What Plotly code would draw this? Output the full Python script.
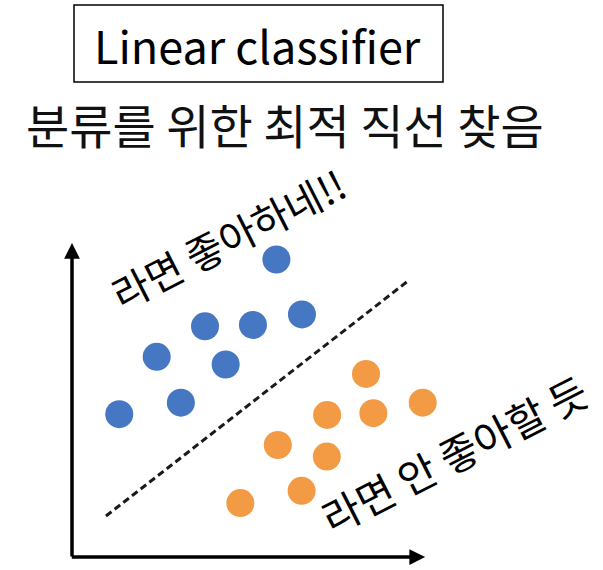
import plotly.graph_objects as go

# ---- data (units along the drawn axes) ----
blue_x = [5.84, 3.80, 5.17, 6.57, 2.42, 4.39, 3.11, 1.35]
blue_y = [8.50, 6.59, 6.63, 6.93, 5.72, 5.50, 4.41, 4.08]
orange_x = [8.40, 10.02, 7.29, 8.61, 5.88, 7.28, 6.56, 4.81]
orange_y = [5.23, 4.41, 4.06, 4.11, 3.20, 2.87, 1.89, 1.54]
boundary_x = [0.97, 9.63]
boundary_y = [1.17, 7.91]
axis_end_x = 10.09
axis_end_y = 8.97

title_text = "Linear classifier"
subtitle_text = "분류를 위한 최적 직선 찾음"
label_like = "라면 좋아하네!!"
label_dislike = "라면 안 좋아할 듯"

W, H = 603, 570
UNIT = 35.0
OX, OY = 72.0, 557.0  # pixel position of axis origin

x_range = [-OX / UNIT, (W - OX) / UNIT]
y_range = [(OY - H) / UNIT, OY / UNIT]

KFONT = "Noto Sans CJK KR"

fig = go.Figure()

fig.add_trace(go.Scatter(
    x=boundary_x, y=boundary_y, mode="lines",
    line=dict(color="#1a1a1a", width=3, dash="7px,4px"),
    hoverinfo="skip", showlegend=False))

fig.add_trace(go.Scatter(
    x=blue_x, y=blue_y, mode="markers",
    marker=dict(size=28, color="#4677C2", line=dict(width=0)),
    showlegend=False))

fig.add_trace(go.Scatter(
    x=orange_x, y=orange_y, mode="markers",
    marker=dict(size=28, color="#F39A45", line=dict(width=0)),
    showlegend=False))

annotations = [
    # axes arrows
    dict(x=0, y=axis_end_y, ax=0, ay=-0.03, xref="x", yref="y", axref="x", ayref="y",
         showarrow=True, arrowhead=2, arrowsize=0.9, arrowwidth=3.5, arrowcolor="#000", text=""),
    dict(x=axis_end_x, y=0, ax=-0.05, ay=0, xref="x", yref="y", axref="x", ayref="y",
         showarrow=True, arrowhead=2, arrowsize=0.9, arrowwidth=3.5, arrowcolor="#000", text=""),
    # title
    dict(x=257.5 / W, y=1 - 44 / H, xref="paper", yref="paper", showarrow=False,
         text=title_text, font=dict(family=KFONT, size=45, color="#000"),
         xanchor="center", yanchor="middle"),
    dict(x=285 / W, y=1 - 123 / H, xref="paper", yref="paper", showarrow=False,
         text=subtitle_text, font=dict(family=KFONT, size=47, color="#111"),
         xanchor="center", yanchor="middle"),
    dict(x=228 / W, y=1 - 238 / H, xref="paper", yref="paper", showarrow=False,
         text=label_like, textangle=-27, font=dict(family=KFONT, size=40, color="#000"),
         xanchor="center", yanchor="middle"),
    dict(x=454 / W, y=1 - 453 / H, xref="paper", yref="paper", showarrow=False,
         text=label_dislike, textangle=-27, font=dict(family=KFONT, size=41, color="#000"),
         xanchor="center", yanchor="middle"),
]

shapes = [
    dict(type="rect", xref="paper", yref="paper",
         x0=74 / W, x1=443 / W, y0=1 - 82 / H, y1=1 - 5 / H,
         line=dict(color="#000", width=1.5), fillcolor="rgba(0,0,0,0)"),
]

fig.update_layout(
    width=W, height=H,
    margin=dict(l=0, r=0, t=0, b=0),
    paper_bgcolor="white", plot_bgcolor="white",
    xaxis=dict(range=x_range, visible=False, fixedrange=True),
    yaxis=dict(range=y_range, visible=False, fixedrange=True),
    annotations=annotations, shapes=shapes,
    hovermode=False,
)

fig.write_html("out.html", config={"displayModeBar": False},
               post_script="document.body.style.margin='0';")
